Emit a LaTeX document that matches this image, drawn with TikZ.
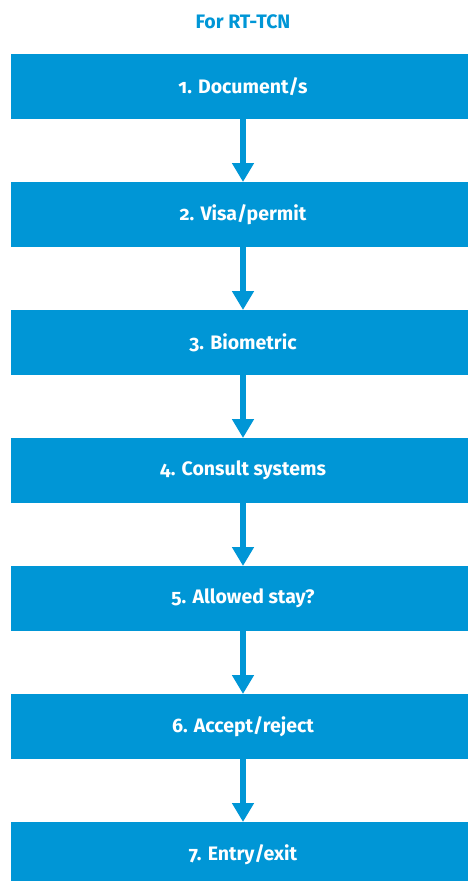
\documentclass[tikz,border=0pt]{standalone}
\usepackage{fontspec}
\setmainfont{Fira Sans}[Numbers=OldStyle]
\usetikzlibrary{arrows.meta}
\definecolor{eublue}{RGB}{0,150,214}
\tikzset{
  stepbox/.style={fill=eublue, minimum width=464pt, minimum height=64.5pt, inner sep=0pt,
    text=white, font=\fontsize{19.5pt}{23pt}\selectfont\bfseries, anchor=north},
  flowarrow/.style={draw=eublue, line width=5.5pt, -{Triangle[width=21pt,length=19pt]}, shorten >=0pt},
}
\begin{document}
\begin{tikzpicture}[x=1pt,y=1pt]
\useasboundingbox (0,0) rectangle (467,-881);
\node[text=eublue, font=\fontsize{19.5pt}{23pt}\selectfont\bfseries] (title) at (243,-21.5) {For RT-TCN};
\node[stepbox] (s1) at (243,-54) {1. Document/s};
\node[stepbox] (s2) at (243,-182) {2. Visa/permit};
\node[stepbox] (s3) at (243,-310) {3. Biometric};
\node[stepbox] (s4) at (243,-438) {4. Consult systems};
\node[stepbox] (s5) at (243,-566) {5. Allowed stay?};
\node[stepbox] (s6) at (243,-694) {6. Accept/reject};
\node[stepbox] (s7) at (243,-822) {7. Entry/exit};
\foreach \a/\b in {s1/s2,s2/s3,s3/s4,s4/s5,s5/s6,s6/s7}
  \draw[flowarrow] (\a.south) -- (\b.north);
\end{tikzpicture}
\end{document}
